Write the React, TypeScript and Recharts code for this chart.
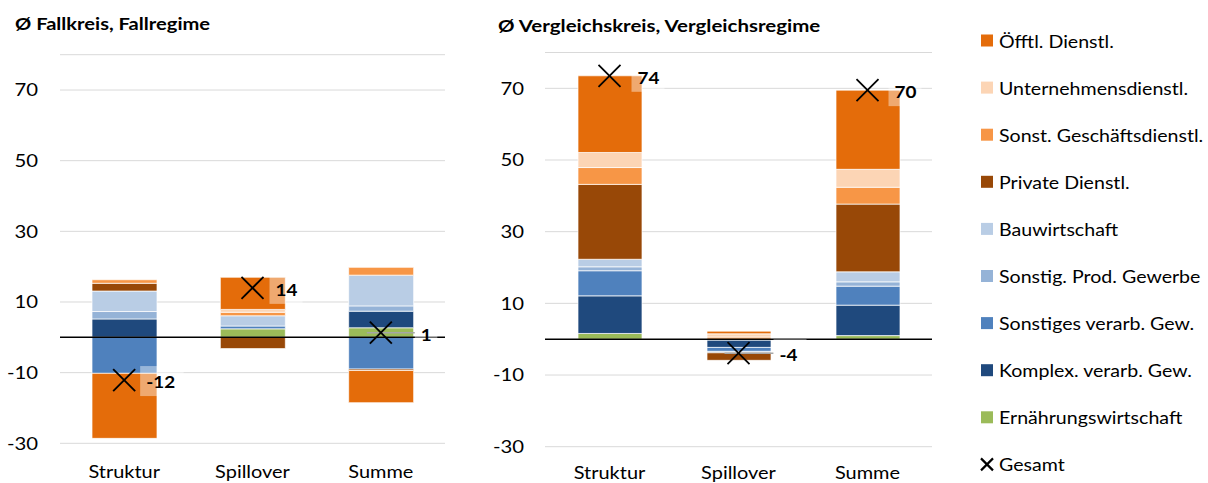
import React from 'react';
import { ComposedChart, Bar, Line, XAxis, YAxis, CartesianGrid, ReferenceLine } from 'recharts';

const FONT = 'Lato, "Noto Sans", sans-serif';
const FS = 17.5;
const SX = 1.16;
const LEGEND_SX = 1.12;

const categories = ['Struktur', 'Spillover', 'Summe'];
const yTicks = [-30, -10, 10, 30, 50, 70];

// Ø Fallkreis, Fallregime
const fallErnaehrung = [0, 2.4, 2.7];
const fallKomplex = [5.2, 0, 4.7];
const fallSonstVerarb = [-10.2, 0.8, -9.0];
const fallSonstProd = [2.1, 0, 1.5];
const fallBau = [5.8, 2.9, 8.7];
const fallPrivate = [2.2, -3.2, -0.4];
const fallSonstGesch = [1.0, 1.0, 2.2];
const fallUntern = [0, 0.8, 0];
const fallOeffentl = [-18.4, 9.1, -9.1];
const fallGesamt = [-12.1, 14.0, 1.3];

// Ø Vergleichskreis, Vergleichsregime
const vglErnaehrung = [1.6, -0.3, 1.0];
const vglKomplex = [10.5, -2.0, 8.5];
const vglSonstVerarb = [7.0, -1.1, 5.3];
const vglSonstProd = [1.1, -0.4, 1.2];
const vglBau = [2.1, 0, 2.8];
const vglPrivate = [20.9, -2.1, 18.9];
const vglSonstGesch = [4.7, 0.6, 4.7];
const vglUntern = [4.2, 0.9, 5.0];
const vglOeffentl = [21.4, 0.75, 22.1];
const vglGesamt = [73.5, -3.9, 69.5];

const SERIES = [
  { key: 'ernaehrung', name: 'Ernährungswirtschaft', color: '#9BBB59' },
  { key: 'komplex', name: 'Komplex. verarb. Gew.', color: '#1F497D' },
  { key: 'sonstVerarb', name: 'Sonstiges verarb. Gew.', color: '#4F81BD' },
  { key: 'sonstProd', name: 'Sonstig. Prod. Gewerbe', color: '#95B3D7' },
  { key: 'bau', name: 'Bauwirtschaft', color: '#B9CDE5' },
  { key: 'private', name: 'Private Dienstl.', color: '#984807' },
  { key: 'sonstGesch', name: 'Sonst. Geschäftsdienstl.', color: '#F79646' },
  { key: 'untern', name: 'Unternehmensdienstl.', color: '#FCD5B5' },
  { key: 'oeffentl', name: 'Öfftl. Dienstl.', color: '#E46C0A' },
];

const fallData = categories.map((cat, i) => ({
  cat,
  ernaehrung: fallErnaehrung[i],
  komplex: fallKomplex[i],
  sonstVerarb: fallSonstVerarb[i],
  sonstProd: fallSonstProd[i],
  bau: fallBau[i],
  private: fallPrivate[i],
  sonstGesch: fallSonstGesch[i],
  untern: fallUntern[i],
  oeffentl: fallOeffentl[i],
  gesamt: fallGesamt[i],
}));

const vglData = categories.map((cat, i) => ({
  cat,
  ernaehrung: vglErnaehrung[i],
  komplex: vglKomplex[i],
  sonstVerarb: vglSonstVerarb[i],
  sonstProd: vglSonstProd[i],
  bau: vglBau[i],
  private: vglPrivate[i],
  sonstGesch: vglSonstGesch[i],
  untern: vglUntern[i],
  oeffentl: vglOeffentl[i],
  gesamt: vglGesamt[i],
}));

const LABEL_DX_FALL = [22, 23, 40];
const LABEL_DX_VGL = [28, 41, 27];

function SText({ x, y, anchor = 'start', bold = false, size = FS, sx = SX, children }: any) {
  return (
    <text
      transform={`translate(${x},${y}) scale(${sx},1)`}
      x={0}
      y={0}
      textAnchor={anchor}
      fontFamily={FONT}
      fontWeight={bold ? 'bold' : 'normal'}
      fontSize={size}
      fill="#000"
    >
      {children}
    </text>
  );
}

const makeDot = (dxs: number[]) => (props: any) => {
  const { cx, cy, index, value } = props;
  if (cx == null || cy == null) return <g key={`d-${index}`} />;
  const label = String(Math.round(value));
  const dx = dxs[index];
  const tx = cx + dx;
  const tw = label.length * 10.5;
  const s = 11;
  return (
    <g key={`d-${index}`}>
      {dx > 30 && (
        <line x1={cx - 14} y1={cy} x2={tx - 6} y2={cy} stroke="#A6A6A6" strokeWidth={1.5} />
      )}
      <line x1={cx - s} y1={cy - s} x2={cx + s} y2={cy + s} stroke="#000" strokeWidth={1.8} />
      <line x1={cx - s} y1={cy + s} x2={cx + s} y2={cy - s} stroke="#000" strokeWidth={1.8} />
      <rect x={tx - 6} y={cy - 14} width={tw + 12} height={30} fill="#fff" fillOpacity={0.42} />
      <SText x={tx} y={cy + 8} bold sx={1.08}>
        {label}
      </SText>
    </g>
  );
};

const makeCatTick = (dy: number) => (props: any) => {
  const { x, y, payload, index } = props;
  return (
    <SText key={`c-${index}`} x={x} y={y + dy} anchor="middle" sx={1.14}>
      {payload.value}
    </SText>
  );
};

const ValTick = (props: any) => {
  const { x, y, payload } = props;
  return (
    <SText x={x} y={y + 6.3} anchor="end" sx={1.16}>
      {payload.value}
    </SText>
  );
};

function Panel({ data, top, xh, barSize, right, dxs, tickMargin, catDy }: any) {
  return (
    <ComposedChart
      width={460}
      height={483}
      data={data}
      stackOffset="sign"
      margin={{ top, right, bottom: 0, left: 0 }}
      barSize={barSize}
    >
      <CartesianGrid vertical={false} stroke="#D9D9D9" strokeWidth={1} />
      <XAxis
        dataKey="cat"
        axisLine={false}
        tickLine={false}
        tickSize={0}
        tickMargin={0}
        height={xh}
        interval={0}
        tick={makeCatTick(catDy)}
      />
      <YAxis
        width={60}
        domain={[-30, 80]}
        ticks={yTicks}
        allowDataOverflow
        axisLine={false}
        tickLine={false}
        tickSize={0}
        tickMargin={tickMargin}
        interval={0}
        tick={<ValTick />}
      />
      {SERIES.map((s) => (
        <Bar
          key={s.key}
          dataKey={s.key}
          name={s.name}
          stackId="a"
          fill={s.color}
          stroke="#ffffff"
          strokeWidth={0.7}
          isAnimationActive={false}
        />
      ))}
      <ReferenceLine y={0} stroke="#000" strokeWidth={1.6} />
      <Line
        dataKey="gesamt"
        name="Gesamt"
        stroke="none"
        dot={makeDot(dxs)}
        activeDot={false}
        legendType="none"
        isAnimationActive={false}
      />
    </ComposedChart>
  );
}

const LEGEND_ORDER = [...SERIES].reverse();

export default function App() {
  return (
    <div
      style={{
        position: 'absolute',
        left: 0,
        top: 0,
        width: 1208,
        height: 483,
        background: '#fff',
        fontFamily: FONT,
        overflow: 'hidden',
      }}
    >
      <div style={{ position: 'absolute', left: 0, top: 0 }}>
        <Panel data={fallData} top={54.7} xh={39.7} barSize={65} right={15} dxs={LABEL_DX_FALL} tickMargin={22} catDy={35} />
      </div>
      <div style={{ position: 'absolute', left: 485, top: 0 }}>
        <Panel data={vglData} top={52.5} xh={36.3} barSize={64} right={13} dxs={LABEL_DX_VGL} tickMargin={21} catDy={32} />
      </div>
      <svg
        width={1208}
        height={483}
        style={{ position: 'absolute', left: 0, top: 0, pointerEvents: 'none' }}
      >
        <SText x={15} y={29.5} bold sx={1.15}>
          Ø Fallkreis, Fallregime
        </SText>
        <SText x={498} y={31.7} bold sx={1.17}>
          Ø Vergleichskreis, Vergleichsregime
        </SText>
        {LEGEND_ORDER.map((s, i) => {
          const cy = 40.5 + i * 47.1;
          return (
            <g key={s.key}>
              <rect x={981} y={cy - 6} width={12} height={12} fill={s.color} />
              <SText x={999} y={cy + 7} sx={LEGEND_SX}>
                {s.name}
              </SText>
            </g>
          );
        })}
        {(() => {
          const cy = 40.5 + 9 * 47.1;
          return (
            <g>
              <line x1={981} y1={cy - 6} x2={993} y2={cy + 6} stroke="#000" strokeWidth={2.2} />
              <line x1={981} y1={cy + 6} x2={993} y2={cy - 6} stroke="#000" strokeWidth={2.2} />
              <SText x={999} y={cy + 7} sx={LEGEND_SX}>
                Gesamt
              </SText>
            </g>
          );
        })()}
      </svg>
    </div>
  );
}
